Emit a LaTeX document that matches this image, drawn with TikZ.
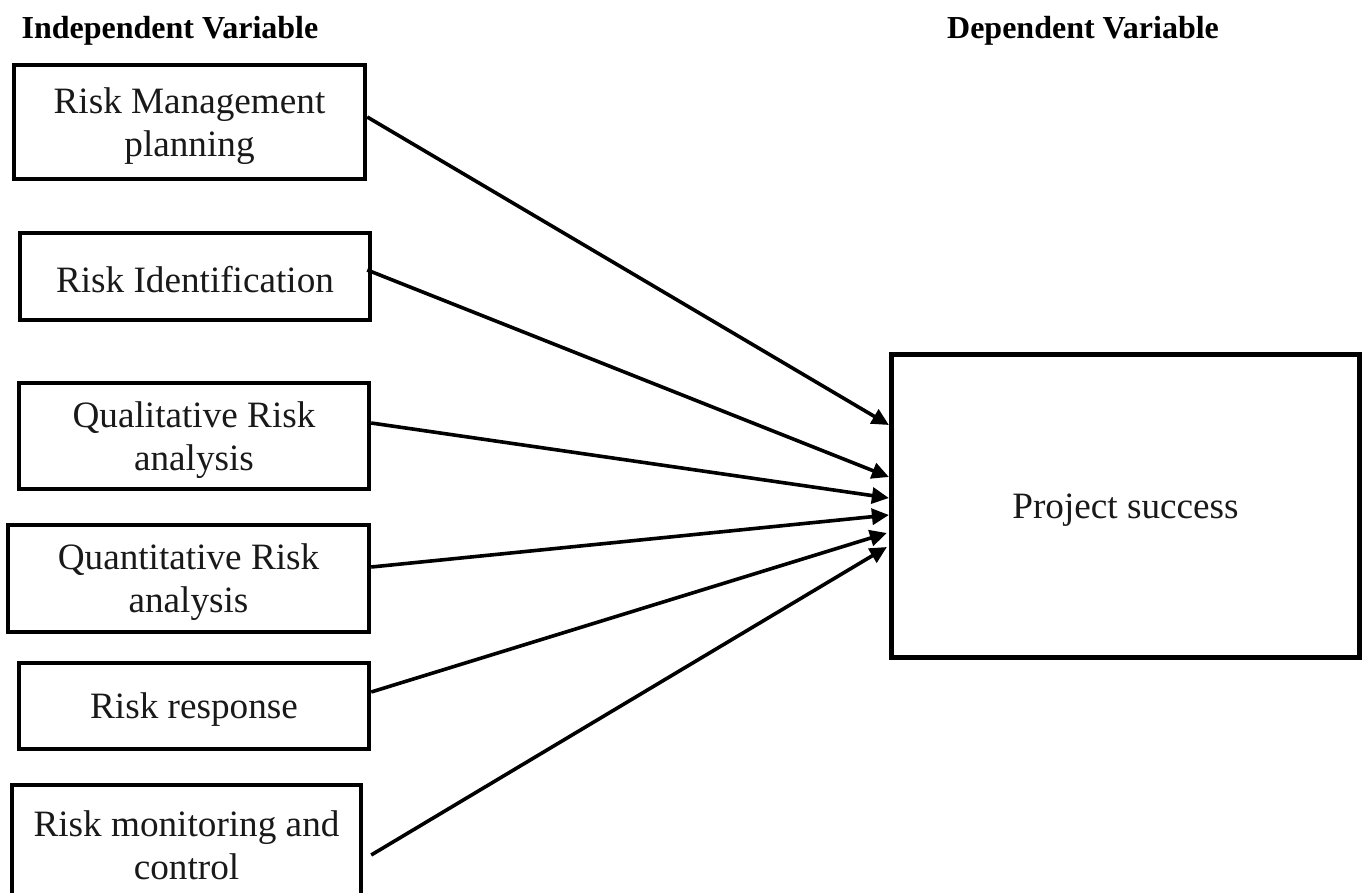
\documentclass[tikz,border=0pt]{standalone}
\usepackage{fontspec}
\setmainfont{Liberation Serif}
\usetikzlibrary{arrows.meta}
\newcommand\boxstrut{\rule{0pt}{16.6pt}}
\begin{document}
\begin{tikzpicture}[x=0.5pt,y=-0.5pt,
  ivbox/.style={draw=black,line width=2.2pt,inner sep=0pt,align=center,
    font=\fontsize{18.6}{21.5}\selectfont,text=black!90},
  dvbox/.style={draw=black,line width=2.6pt,inner sep=0pt,align=center,
    font=\fontsize{18.6}{21.5}\selectfont,text=black!90,
    minimum width=234pt,minimum height=151.5pt},
  heading/.style={inner sep=0pt,font=\fontsize{16}{19}\selectfont\bfseries},
  link/.style={line width=1.8pt,-{Triangle[length=8.5pt,width=8pt]}}]
\useasboundingbox (0,0) rectangle (1364,893);
\clip (0,0) rectangle (1364,893);
\fill[white] (0,0) rectangle (1364,893);
\node[heading] (hiv) at (170,31) {Independent Variable};
\node[heading] (hdv) at (1083,31) {Dependent Variable};
\node[ivbox,minimum width=175.5pt,minimum height=57pt] (b1) at (189.5,122) {\boxstrut Risk Management\\planning};
\node[ivbox,minimum width=175pt,minimum height=43.5pt] (b2) at (195,276.5) {\boxstrut Risk Identification};
\node[ivbox,minimum width=175pt,minimum height=53pt] (b3) at (194,436) {\boxstrut Qualitative Risk\\analysis};
\node[ivbox,minimum width=180.5pt,minimum height=53.5pt] (b4) at (188.5,578.5) {\boxstrut Quantitative Risk\\analysis};
\node[ivbox,minimum width=175pt,minimum height=43pt] (b5) at (194,706) {\boxstrut Risk response};
\node[ivbox,minimum width=174.5pt,minimum height=57pt] (b6) at (186.5,842) {\boxstrut Risk monitoring and\\control};
\node[dvbox] (ps) at (1125.5,506) {\boxstrut Project success};
\draw[link] ([yshift=2.5pt]b1.east) -- ([yshift=40.5pt]ps.west);
\draw[link] ([yshift=3.25pt,xshift=-2.5pt]b2.east) -- ([yshift=14.5pt]ps.west);
\draw[link] ([yshift=6.5pt]b3.east) -- ([yshift=4pt]ps.west);
\draw[link] ([yshift=5.75pt]b4.east) -- ([yshift=-4.5pt]ps.west);
\draw[link] ([yshift=7pt]b5.east) -- ([yshift=-13.5pt,xshift=-1pt]ps.west);
\draw[link] ([yshift=-6.5pt,xshift=4pt]b6.east) -- ([yshift=-20.5pt,xshift=-1pt]ps.west);
\end{tikzpicture}
\end{document}
